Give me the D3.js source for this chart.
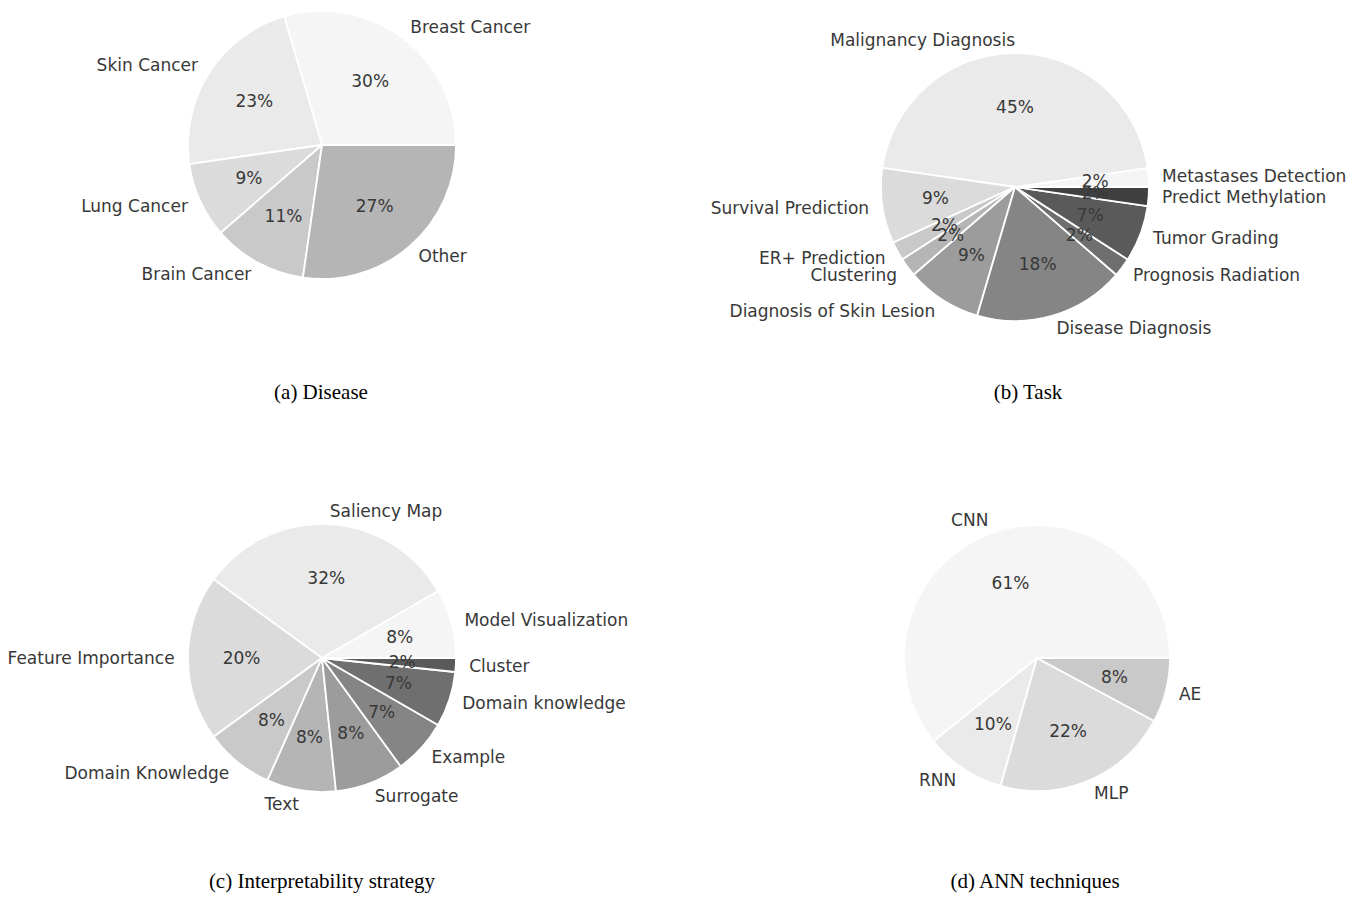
<!DOCTYPE html>
<html>
<head>
<meta charset="utf-8">
<script src="https://cdn.jsdelivr.net/npm/d3@7"></script>
<style>
  body { margin: 0; background: #fff; }
  text.lbl { font-family: "DejaVu Sans", sans-serif; font-size: 17px; fill: #383838; }
  text.cap { font-family: "Liberation Serif", "Times New Roman", serif; font-size: 21px; fill: #000; }
</style>
</head>
<body>
<script>
// (a) Disease
var diseaseLabels = ["Breast Cancer", "Skin Cancer", "Lung Cancer", "Brain Cancer", "Other"];
var diseaseCounts = [13, 10, 4, 5, 12];

// (b) Task
var taskLabels = ["Metastases Detection", "Malignancy Diagnosis", "Survival Prediction", "ER+ Prediction",
  "Clustering", "Diagnosis of Skin Lesion", "Disease Diagnosis", "Prognosis Radiation",
  "Tumor Grading", "Predict Methylation"];
var taskCounts = [1, 20, 4, 1, 1, 4, 8, 1, 3, 1];

// (c) Interpretability strategy
var strategyLabels = ["Model Visualization", "Saliency Map", "Feature Importance", "Domain Knowledge",
  "Text", "Surrogate", "Example", "Domain knowledge", "Cluster"];
var strategyCounts = [5, 19, 12, 5, 5, 5, 4, 4, 1];

// (d) ANN techniques
var annLabels = ["CNN", "RNN", "MLP", "AE"];
var annCounts = [31, 5, 11, 4];

var captions = ["(a) Disease", "(b) Task", "(c) Interpretability strategy", "(d) ANN techniques"];

// matplotlib-like Greys colormap
var greys = ["#ffffff", "#f0f0f0", "#d9d9d9", "#bdbdbd", "#969696", "#737373", "#525252", "#252525", "#000000"];
var grey = d3.scaleLinear()
    .domain(d3.range(9).map(function(i) { return i / 8; }))
    .range(greys);

var width = 1351, height = 918;

var svg = d3.select("body").append("svg")
    .attr("width", width)
    .attr("height", height);

svg.append("rect").attr("width", width).attr("height", height).attr("fill", "#fff");

function drawPie(cx, cy, r, labels, counts) {
  var total = d3.sum(counts);
  var data = labels.map(function(l, i) { return {label: l, value: counts[i], idx: i}; });

  // start at 3 o'clock and go counter clockwise, like matplotlib
  var pie = d3.pie()
      .sort(null)
      .value(function(d) { return d.value; })
      .startAngle(Math.PI / 2)
      .endAngle(Math.PI / 2 - 2 * Math.PI);

  var arc = d3.arc().innerRadius(0).outerRadius(r);

  var g = svg.append("g")
      .attr("transform", "translate(" + cx + "," + cy + ")");

  var arcs = pie(data);

  g.selectAll("path.wedge")
    .data(arcs)
    .enter().append("path")
      .attr("class", "wedge")
      .attr("d", arc)
      .attr("fill", function(d) { return grey(0.08 * (d.data.idx + 1)); })
      .attr("stroke", "#fff")
      .attr("stroke-width", 1.8)
      .attr("stroke-linejoin", "round");

  function mid(d) { return (d.startAngle + d.endAngle) / 2; }

  g.selectAll("text.name")
    .data(arcs)
    .enter().append("text")
      .attr("class", "lbl")
      .attr("x", function(d) { return 1.1 * r * Math.sin(mid(d)); })
      .attr("y", function(d) { return -1.1 * r * Math.cos(mid(d)); })
      .attr("dy", "0.35em")
      .attr("text-anchor", function(d) { return Math.sin(mid(d)) > 0 ? "start" : "end"; })
      .text(function(d) { return d.data.label; });

  g.selectAll("text.pct")
    .data(arcs)
    .enter().append("text")
      .attr("class", "lbl")
      .attr("x", function(d) { return 0.6 * r * Math.sin(mid(d)); })
      .attr("y", function(d) { return -0.6 * r * Math.cos(mid(d)); })
      .attr("dy", "0.35em")
      .attr("text-anchor", "middle")
      .text(function(d) { return Math.round(100 * d.data.value / total) + "%"; });
}

drawPie(322, 145, 134, diseaseLabels, diseaseCounts);
drawPie(1015, 187, 134, taskLabels, taskCounts);
drawPie(322, 658, 134, strategyLabels, strategyCounts);
drawPie(1037, 658, 133, annLabels, annCounts);

var capPos = [[321, 399], [1028, 399], [322, 888], [1035, 888]];
svg.selectAll("text.cap")
  .data(captions)
  .enter().append("text")
    .attr("class", "cap")
    .attr("x", function(d, i) { return capPos[i][0]; })
    .attr("y", function(d, i) { return capPos[i][1]; })
    .attr("text-anchor", "middle")
    .text(function(d) { return d; });
</script>
</body>
</html>
